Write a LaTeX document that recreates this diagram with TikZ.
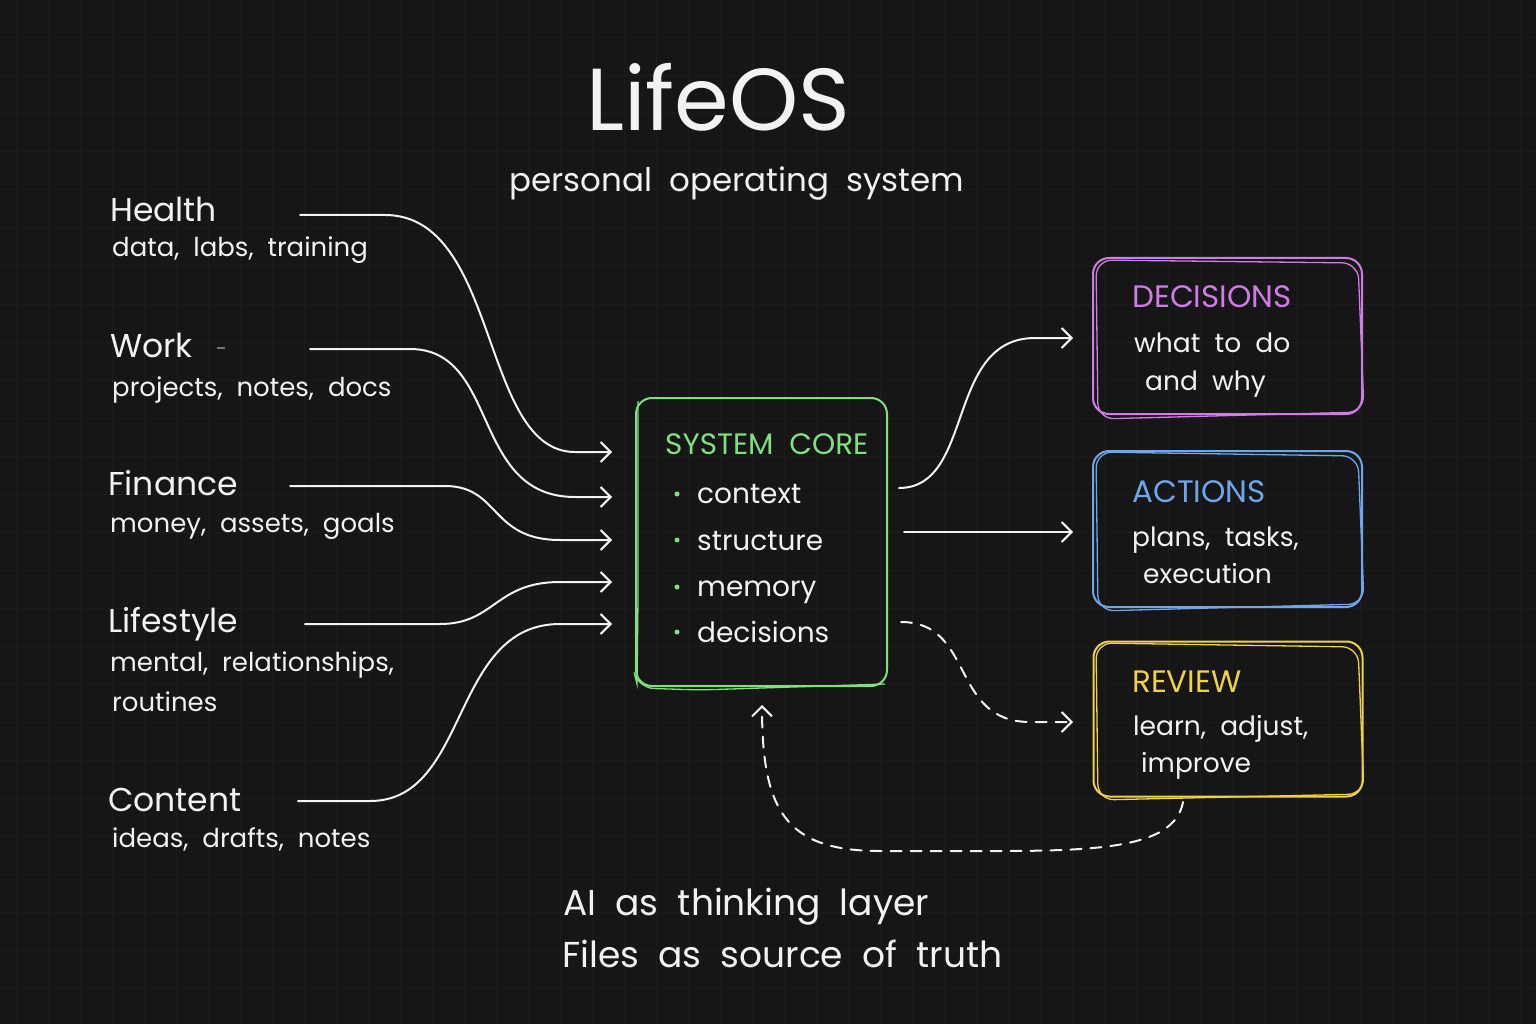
\documentclass[tikz,border=0pt]{standalone}
\usepackage{fontspec}
\setmainfont[WordSpace=2.0]{Poppins}
\usetikzlibrary{arrows.meta}
\definecolor{bg}{HTML}{161616}
\definecolor{gridc}{HTML}{1C1C1C}
\definecolor{cgreen}{HTML}{80E07E}
\definecolor{cpurple}{HTML}{D07CE6}
\definecolor{cblue}{HTML}{6EA6EE}
\definecolor{cyellow}{HTML}{F0D04A}
\definecolor{ink}{HTML}{F2F2F2}
\definecolor{dashgray}{HTML}{777777}
\tikzset{
  txt/.style={text=ink, anchor=base west, inner sep=0pt},
  head/.style={txt, font=\fontsize{33}{40}\selectfont},
  sub/.style={txt, font=\fontsize{26}{30}\selectfont},
  boxtitle/.style={anchor=base west, inner sep=0pt, font=\fontsize{31}{36}\selectfont},
  boxtext/.style={txt, font=\fontsize{26.5}{32}\selectfont},
  item/.style={txt, font=\fontsize{28}{32}\selectfont},
  conn/.style={draw=ink, line width=2pt, line cap=round},
  arr/.style={conn, -{Straight Barb[length=10pt,width=20pt]}},
  dashconn/.style={conn, dash pattern=on 11pt off 9pt},
  sketch/.style={draw=#1, line width=2pt, rounded corners=16pt},
  dot/.style={circle, fill=cgreen, inner sep=0pt, minimum size=5pt}
}
\begin{document}
\begin{tikzpicture}[x=1pt,y=-1pt]
\useasboundingbox (0,0) rectangle (1536,1024);
\fill[bg] (0,0) rectangle (1536,1024);
\foreach \gx in {16,48,...,1536} \draw[gridc, line width=1pt] (\gx,0) -- (\gx,1024);
\foreach \gy in {38,76,...,1024} \draw[gridc, line width=1pt] (0,\gy) -- (1536,\gy);

% title
\node[txt, anchor=base, font=\fontsize{88}{96}\selectfont] (title) at (718,131) {LifeOS};
\node[txt, anchor=base, font=\fontsize{32.5}{38}\selectfont] (subtitle) at (737,192) {personal operating system};

% left sources
\node[head] (health) at (110,222) {Health};
\node[sub] (healths) at (112,257) {data, labs, training};
\node[head] (work) at (110,357) {Work};
\node[sub] (works) at (112,396) {projects, notes, docs};
\node[head] (finance) at (108,495) {Finance};
\node[sub] (finances) at (110,532) {money, assets, goals};
\node[head] (life) at (108,632) {Lifestyle};
\node[sub] (lifes) at (110,671) {mental, relationships,};
\node[sub] (lifes2) at (112,711) {routines};
\node[head] (content) at (108,811) {Content};
\node[sub] (contents) at (112,847) {ideas, drafts, notes};
\coordinate (wd1) at (217,348); \coordinate (wd2) at (225,348);
\draw[dashgray, line width=1.5pt] (wd1) -- (wd2);

% core box
\node[sketch=cgreen, minimum width=251pt, minimum height=288pt] (core) at (761.5,542) {};
\draw[sketch=cgreen, line width=1.3pt] (638,401) -- (638,600) [sharp corners] -- (637,684) [rounded corners=16pt] -- (638,688) -- (700,690) -- (885,684);
\node[boxtitle, text=cgreen, font=\fontsize{29.5}{34}\selectfont] (coret) at (665,454) {SYSTEM CORE};
\node[dot] (d1) at (677,494) {}; \node[item] (i1) at (697,503) {context};
\node[dot] (d2) at (677,540) {}; \node[item] (i2) at (697,550) {structure};
\node[dot] (d3) at (677,587) {}; \node[item] (i3) at (697,596) {memory};
\node[dot] (d4) at (677,632) {}; \node[item] (i4) at (697,642) {decisions};

% right boxes
\node[sketch=cpurple, minimum width=269pt, minimum height=156pt] (dec) at (1227.5,336) {};
\draw[sketch=cpurple, line width=1.3pt] (1096,260) -- (1358,263) -- (1364,412) -- (1098,419) -- cycle;
\node[boxtitle, text=cpurple] (dect) at (1132,307) {DECISIONS};
\node[boxtext] (dec1) at (1134,352) {what to do};
\node[boxtext] (dec2) at (1145,390) {and why};

\node[sketch=cblue, minimum width=269pt, minimum height=156pt] (act) at (1227.5,529) {};
\draw[sketch=cblue, line width=1.3pt] (1096,452) -- (1358,456) -- (1364,604) -- (1098,611) -- cycle;
\node[boxtitle, text=cblue] (actt) at (1132,502) {ACTIONS};
\node[boxtext] (act1) at (1132,546) {plans, tasks,};
\node[boxtext] (act2) at (1143,583) {execution};

\node[sketch=cyellow, minimum width=269pt, minimum height=155pt] (rev) at (1228,719) {};
\draw[sketch=cyellow, line width=1.3pt] (1096,643) -- (1358,647) -- (1364,794) -- (1098,800) -- cycle;
\node[boxtitle, text=cyellow] (revt) at (1132,692) {REVIEW};
\node[boxtext] (rev1) at (1133,735) {learn, adjust,};
\node[boxtext] (rev2) at (1141,772) {improve};

% left connectors
\coordinate (hs) at (300,215); \coordinate (he) at (612,452);
\coordinate (ws) at (310,349); \coordinate (we) at (612,497);
\coordinate (fs) at (290,486); \coordinate (fe) at (612,540);
\coordinate (ls) at (305,624); \coordinate (le) at (612,582);
\coordinate (cs) at (298,801); \coordinate (ce) at (612,624);
\draw[arr] (hs) -- (385,215) .. controls (500,215) and (480,452) .. (575,452) -- (he);
\draw[arr] (ws) -- (410,349) .. controls (500,349) and (470,497) .. (575,497) -- (we);
\draw[arr] (fs) -- (445,486) .. controls (500,486) and (490,540) .. (560,540) -- (fe);
\draw[arr] (ls) -- (440,624) .. controls (495,624) and (495,582) .. (560,582) -- (le);
\draw[arr] (cs) -- (370,801) .. controls (470,801) and (450,624) .. (560,624) -- (ce);

% right connectors
\coordinate (r1s) at (899,488); \coordinate (r1e) at (1073,338);
\coordinate (r2s) at (904,532); \coordinate (r2e) at (1073,532);
\coordinate (r3s) at (901,622); \coordinate (r3e) at (1073,722);
\draw[arr] (r1s) .. controls (975,488) and (945,338) .. (1035,338) -- (r1e);
\draw[arr] (r2s) -- (r2e);
\draw[dashconn, -{Straight Barb[length=10pt,width=20pt]}] (r3s) .. controls (975,622) and (950,722) .. (1030,722) -- (r3e);

% feedback loop
\coordinate (fbs) at (1183,802); \coordinate (fbe) at (762,705);
\draw[dashconn, -{Straight Barb[length=10pt,width=20pt]}] (fbs) .. controls (1175,845) and (1110,851) .. (1000,851) -- (880,851) .. controls (785,851) and (762,810) .. (fbe);

% bottom text
\node[txt, font=\fontsize{36}{42}\selectfont] (ai) at (563,915) {AI as thinking layer};
\node[txt, font=\fontsize{36}{42}\selectfont] (files) at (562,967) {Files as source of truth};
\end{tikzpicture}
\end{document}
